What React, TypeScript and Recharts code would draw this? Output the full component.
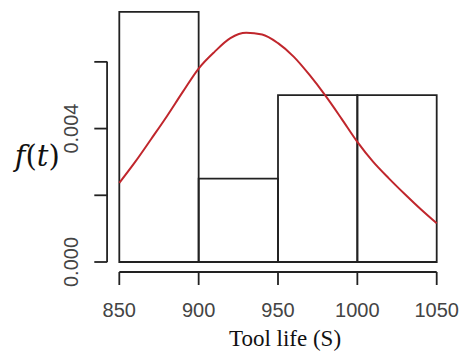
import React from 'react';
import { ComposedChart, Line, XAxis, YAxis, ReferenceArea, ReferenceLine } from 'recharts';

// histogram bins (density scale)
const binStart = [850, 900, 950, 1000];
const binEnd = [900, 950, 1000, 1050];
const binDensity = [0.0075, 0.0025, 0.005, 0.005];

// fitted density curve
const curveT = [850, 860, 870, 880, 890, 900, 910, 920, 930, 940, 950, 960, 970, 980, 990, 1000, 1010, 1020, 1030, 1040, 1050];
const curveF = [0.00237, 0.003, 0.00368, 0.00437, 0.0051, 0.0058, 0.0063, 0.00671, 0.00687, 0.00682, 0.00656, 0.00615, 0.0056, 0.00498, 0.0043, 0.0036, 0.003, 0.0025, 0.00203, 0.00158, 0.00116];

const xTicks = [850, 900, 950, 1000, 1050];
const yTicks = [0, 0.002, 0.004, 0.006];
const yLabeled = [0, 0.004];

const data = curveT.map((t, i) => ({ t, f: curveF[i] }));

const INK = '#222';
const TICK_FONT = '"Liberation Sans", Arial, sans-serif';

const XTick = ({ x, y, payload }: any) => (
  <g>
    <line x1={x} x2={x} y1={y + 10} y2={y + 23} stroke={INK} strokeWidth={1.8} />
    <text x={x} y={y + 48} textAnchor="middle" dominantBaseline="central" fontFamily={TICK_FONT} fontSize={20} fill="#444">
      {payload.value}
    </text>
  </g>
);

const YTick = ({ x, y, payload }: any) => (
  <g>
    <line x1={x - 12} x2={x - 25} y1={y} y2={y} stroke={INK} strokeWidth={1.8} />
    {yLabeled.includes(payload.value) && (
      <text
        x={x - 48}
        y={y}
        transform={`rotate(-90 ${x - 48} ${y})`}
        textAnchor="middle"
        dominantBaseline="central"
        fontFamily={TICK_FONT}
        fontSize={20}
        fill="#444"
      >
        {payload.value.toFixed(3)}
      </text>
    )}
  </g>
);

const XTitle = ({ viewBox }: any) => (
  <text
    x={viewBox.x + viewBox.width / 2 + 7}
    y={viewBox.y + 76}
    textAnchor="middle"
    dominantBaseline="central"
    fontFamily='"Liberation Serif", "Times New Roman", serif'
    fontSize={23}
    fill="#111"
  >
    Tool life (S)
  </text>
);

const YTitle = ({ viewBox }: any) => (
  <text
    x={viewBox.x - 22}
    y={viewBox.y + viewBox.height / 2 + 21}
    textAnchor="middle"
    dominantBaseline="central"
    fontFamily='"DejaVu Serif", "Liberation Serif", serif'
    fontSize={29}
    fill="#111"
  >
    <tspan fontStyle="italic">f</tspan>(<tspan fontStyle="italic">t</tspan>)
  </text>
);

const App: React.FC = () => {
  return (
    <div style={{ position: 'absolute', left: 0, top: 0, width: 462, height: 352, background: '#fff' }}>
      <ComposedChart
        width={462}
        height={352}
        data={data}
        margin={{ top: 8.5, right: 25.3, left: 59.3, bottom: 30 }}
      >
        <XAxis
          dataKey="t"
          type="number"
          domain={[850, 1050]}
          ticks={xTicks}
          tick={<XTick />}
          tickLine={false}
          axisLine={false}
          tickSize={0}
          tickMargin={0}
          height={60}
          label={<XTitle />}
        />
        <YAxis
          type="number"
          domain={[0, 0.0076]}
          ticks={yTicks}
          tick={<YTick />}
          tickLine={false}
          axisLine={false}
          tickSize={0}
          tickMargin={0}
          width={60}
          label={<YTitle />}
        />
        {binStart.map((b, i) => (
          <ReferenceArea
            key={b}
            x1={b}
            x2={binEnd[i]}
            y1={0}
            y2={binDensity[i]}
            fill="none"
            fillOpacity={0}
            stroke={INK}
            strokeWidth={1.8}
            strokeOpacity={1}
            ifOverflow="visible"
          />
        ))}
        {/* detached axis spines, R style */}
        <ReferenceLine
          segment={[{ x: 842.3, y: 0 }, { x: 842.3, y: 0.006 }]}
          stroke={INK}
          strokeWidth={1.8}
          ifOverflow="visible"
        />
        <ReferenceLine
          segment={[{ x: 850, y: -0.0003 }, { x: 1050, y: -0.0003 }]}
          stroke={INK}
          strokeWidth={1.8}
          ifOverflow="visible"
        />
        <Line
          dataKey="f"
          type="monotone"
          stroke="#c0262c"
          strokeWidth={2}
          dot={false}
          isAnimationActive={false}
        />
      </ComposedChart>
    </div>
  );
};

export default App;
